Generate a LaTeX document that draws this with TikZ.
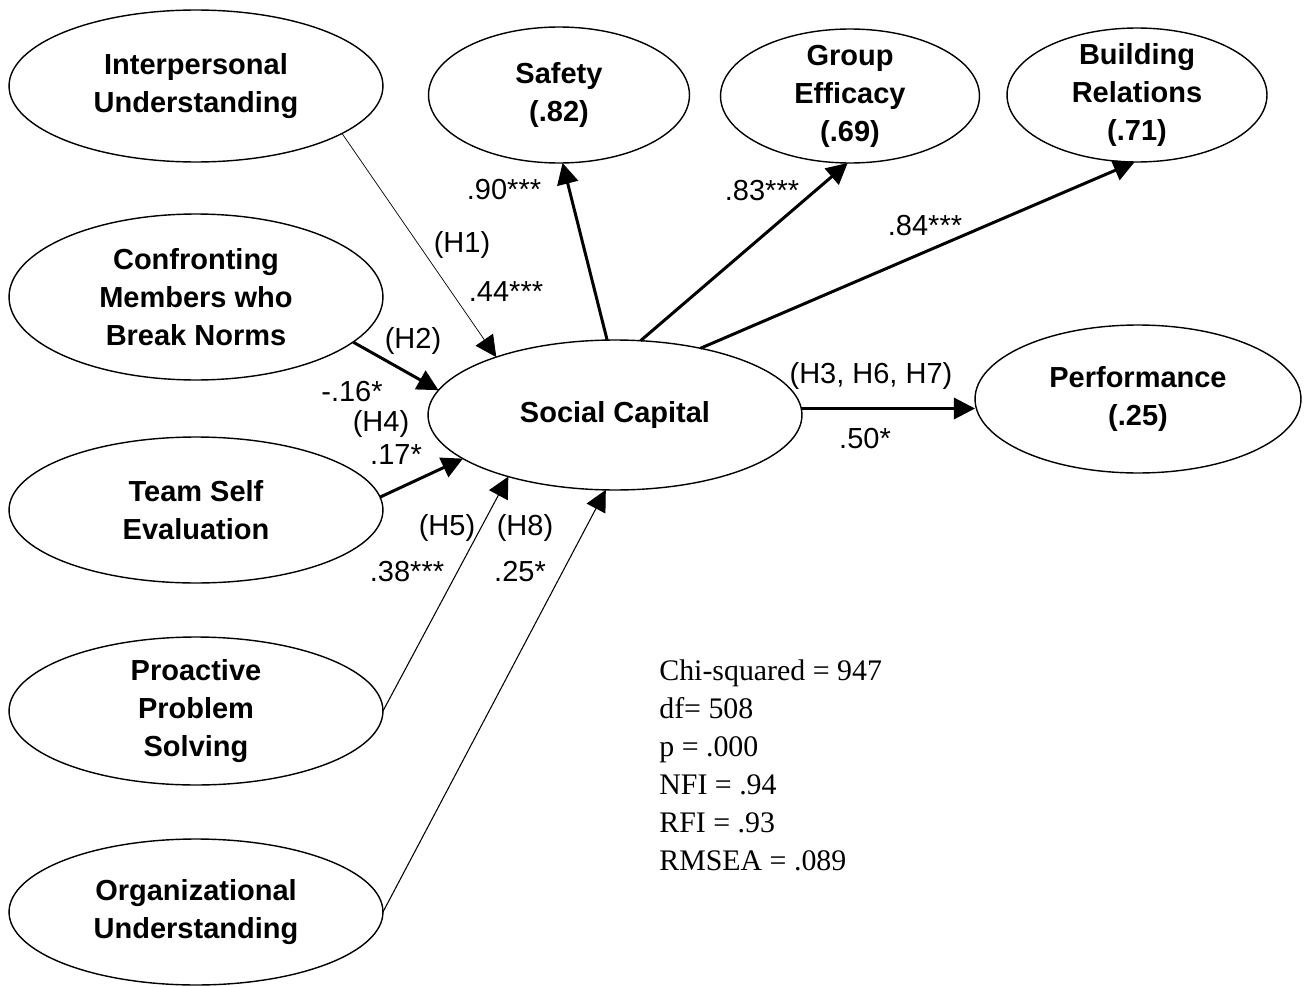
\documentclass[tikz,border=0pt]{standalone}
\usepackage{fontspec}
\setmainfont{Liberation Serif}
\setsansfont{Liberation Sans}
\usetikzlibrary{shapes.geometric,arrows.meta}

\tikzset{
  latent/.style={ellipse, draw, line width=.8pt, inner xsep=0pt, inner ysep=-14pt, outer sep=0pt,
    align=center, font=\sffamily\bfseries\fontsize{16.5}{21.6}\selectfont},
  coef/.style={inner sep=0pt, font=\sffamily\fontsize{16.5}{20}\selectfont},
  heavy/.style={line width=1.7pt, -{Triangle[length=12pt,width=12pt]}},
  light/.style={line width=.6pt, -{Triangle[length=12pt,width=12pt]}}
}

\begin{document}
\begin{tikzpicture}[x=0.02cm,y=-0.02cm]
\useasboundingbox (0,0) rectangle (1309,987);

% antecedents
\node[latent, minimum width=7.48cm, minimum height=3.04cm] (interp) at (196,86) {Interpersonal\\Understanding};
\node[latent, minimum width=7.48cm, minimum height=3.32cm] (confront) at (196,297) {Confronting\\Members who\\Break Norms};
\node[latent, minimum width=7.48cm, minimum height=2.92cm] (teamself) at (196,510) {Team Self\\Evaluation};
\node[latent, minimum width=7.48cm, minimum height=2.96cm] (proactive) at (196,711) {Proactive\\Problem\\Solving};
\node[latent, minimum width=7.48cm, minimum height=2.92cm] (orgund) at (196,912) {Organizational\\Understanding};

% mediator and outcomes
\node[latent, minimum width=7.48cm, minimum height=3.0cm] (social) at (615,415) {Social Capital};
\node[latent, minimum width=5.22cm, minimum height=2.72cm] (safety) at (559,95) {Safety\\(.82)};
\node[latent, minimum width=5.18cm, minimum height=2.68cm] (efficacy) at (850,96) {Group\\Efficacy\\(.69)};
\node[latent, minimum width=5.2cm, minimum height=2.68cm] (building) at (1137,95) {Building\\Relations\\(.71)};
\node[latent, minimum width=6.52cm, minimum height=2.96cm] (perf) at (1138,399) {Performance\\(.25)};

% paths
\draw[line width=.4pt, -{Triangle[length=12pt,width=12pt]}] (interp.-18) -- (social.154);
\draw[heavy] (confront.-16) -- (social.172);
\draw[heavy] (teamself.4) -- (social.-164);
\draw[light] (proactive.east) -- (social.-150);
\draw[light] (orgund.east) -- (social.-97);
\draw[heavy] (social.96) -- (safety.-87);
\draw[heavy] (social.71) -- (efficacy.-92);
\draw[heavy] (social.38) -- (building.-92);
\draw[heavy] (social.2) -- (social.2 -| perf.west);

% coefficients
\node[coef] (c1) at (462,245) {(H1)};
\node[coef] (c2) at (506,292) {.44***};
\node[coef] (c3) at (413,341) {(H2)};
\node[coef] (c4) at (352,392) {-.16*};
\node[coef] (c5) at (381,424) {(H4)};
\node[coef] (c6) at (396,455) {.17*};
\node[coef] (c7) at (447,528) {(H5)};
\node[coef] (c8) at (525,528) {(H8)};
\node[coef] (c9) at (407,572) {.38***};
\node[coef] (c10) at (520,572) {.25*};
\node[coef] (c11) at (504,190) {.90***};
\node[coef] (c12) at (762,191) {.83***};
\node[coef] (c13) at (925,226) {.84***};
\node[coef] (c14) at (871,376) {(H3, H6, H7)};
\node[coef] (c15) at (865,439) {.50*};

% fit indices
\node[align=left, anchor=west, inner sep=0pt, font=\fontsize{17}{21.6}\selectfont] (fit) at (659,765)
  {Chi-squared = 947\\df= 508\\p = .000\\NFI = .94\\RFI = .93\\RMSEA = .089};

\end{tikzpicture}
\end{document}
